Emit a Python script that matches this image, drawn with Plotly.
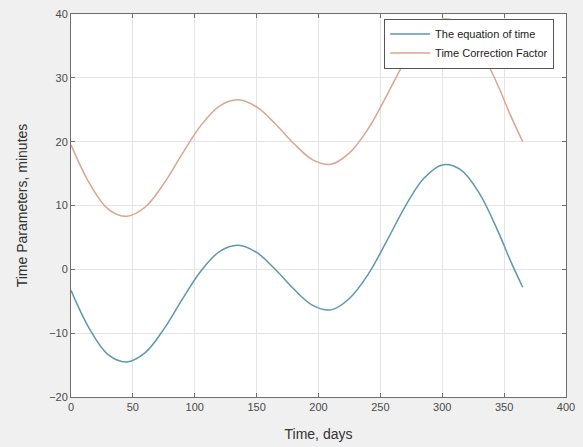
import plotly.graph_objects as go

days = [0, 15, 30, 45, 60, 75, 90, 105, 120, 135, 150, 165, 180, 195, 210,
        225, 240, 255, 270, 285, 300, 315, 330, 345, 355, 365]
equation_of_time = [-3.3, -9.35, -13.36, -14.5, -13.04, -9.37, -4.66, -0.25, 2.78, 3.76,
                    2.64, 0.01, -3.09, -5.6, -6.35, -4.56, -0.82, 4.38, 9.84,
                    14.22, 16.36, 15.59, 11.90, 5.99, 1.4, -2.8]
time_correction = [19.5, 13.45, 9.44, 8.3, 9.76, 13.43, 18.14, 22.55, 25.58, 26.56,
                   25.44, 22.81, 19.71, 17.2, 16.45, 18.24, 21.98, 27.18, 32.64,
                   37.02, 39.16, 38.39, 34.70, 28.79, 24.2, 20.0]

x_ticks = [0, 50, 100, 150, 200, 250, 300, 350, 400]
y_ticks = [-20, -10, 0, 10, 20, 30, 40]

fig = go.Figure()
fig.add_trace(go.Scatter(x=days, y=equation_of_time, mode="lines",
                         name="The equation of time",
                         line=dict(color="#5b99ad", width=1.5, shape="spline", smoothing=1)))
fig.add_trace(go.Scatter(x=days, y=time_correction, mode="lines",
                         name="Time Correction Factor",
                         line=dict(color="#dba48f", width=1.5, shape="spline", smoothing=1)))

axis_common = dict(showline=True, linecolor="#6e6e6e", linewidth=1, mirror="ticks",
                   ticks="inside", ticklen=4, tickcolor="#6e6e6e",
                   showgrid=True, gridcolor="#e4e4e4", gridwidth=1, zeroline=False,
                   tickfont=dict(family="Liberation Sans, Arial, sans-serif", size=11, color="#4a4a4a"))

fig.update_xaxes(range=[0, 400], tickvals=x_ticks,
                 title=dict(text="Time, days", standoff=16,
                            font=dict(family="Liberation Sans, Arial, sans-serif", size=14, color="#333333")),
                 **axis_common)
fig.update_yaxes(range=[-20, 40], tickvals=y_ticks,
                 title=dict(text="Time Parameters, minutes", standoff=18,
                            font=dict(family="Liberation Sans, Arial, sans-serif", size=14, color="#333333")),
                 **axis_common)

fig.update_layout(
    width=583, height=447,
    margin=dict(l=71, r=17, t=8, b=49),
    paper_bgcolor="#f0f0f0", plot_bgcolor="white",
    showlegend=True,
    legend=dict(x=0.976, y=0.988, xanchor="right", yanchor="top",
                bgcolor="white", bordercolor="#555555", borderwidth=1,
                font=dict(family="Liberation Sans, Arial, sans-serif", size=11, color="#222222"),
                tracegroupgap=0, itemwidth=40),
)

fig.write_html("out.html")
